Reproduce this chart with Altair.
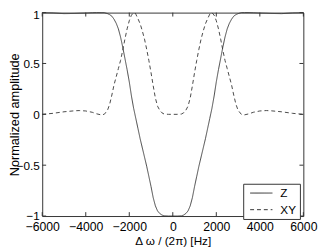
import altair as alt
import pandas as pd

# Frequency offset (Hz)
freq = [-6000, -5500, -5000, -4500, -4300, -4000, -3700, -3500, -3300, -3150,
        -3000, -2900, -2800, -2700, -2600, -2500, -2400, -2300, -2200, -2100,
        -2000, -1900, -1800, -1750, -1700, -1600, -1500, -1400, -1300, -1200,
        -1100, -1000, -900, -800, -700, -600, -500, -400, -200, 0,
        200, 400, 500, 600, 700, 800, 900, 1000, 1100, 1200,
        1300, 1400, 1500, 1600, 1700, 1750, 1800, 1900, 2000, 2100,
        2200, 2300, 2400, 2500, 2600, 2700, 2800, 2900, 3000, 3150,
        3300, 3500, 3700, 4000, 4300, 4500, 5000, 5500, 6000]

z_amp = [1.0, 0.997, 0.99, 0.992, 0.994, 0.996, 0.999, 1.0, 1.0, 1.0,
         0.99, 0.98, 0.965, 0.935, 0.895, 0.84, 0.76, 0.66, 0.55, 0.44,
         0.32, 0.18, 0.06, 0.01, -0.04, -0.14, -0.24, -0.33, -0.42, -0.51,
         -0.61, -0.71, -0.82, -0.9, -0.95, -0.975, -0.99, -0.998, -1.0, -1.0,
         -1.0, -0.998, -0.99, -0.975, -0.95, -0.9, -0.82, -0.71, -0.61, -0.51,
         -0.42, -0.33, -0.24, -0.14, -0.04, 0.01, 0.06, 0.18, 0.32, 0.44,
         0.55, 0.66, 0.76, 0.84, 0.895, 0.935, 0.965, 0.98, 0.99, 1.0,
         1.0, 1.0, 0.999, 0.996, 0.994, 0.992, 0.99, 0.997, 1.0]

xy_amp = [0.0, 0.01, 0.025, 0.035, 0.037, 0.033, 0.02, 0.005, -0.005, 0.0,
          0.04, 0.1, 0.19, 0.29, 0.37, 0.45, 0.53, 0.63, 0.74, 0.84,
          0.92, 0.975, 1.0, 1.0, 0.985, 0.94, 0.89, 0.82, 0.74, 0.64,
          0.53, 0.41, 0.28, 0.16, 0.08, 0.04, 0.015, 0.003, 0.0, 0.0,
          0.0, 0.003, 0.015, 0.04, 0.08, 0.16, 0.28, 0.41, 0.53, 0.64,
          0.74, 0.82, 0.89, 0.94, 0.985, 1.0, 1.0, 0.975, 0.92, 0.84,
          0.74, 0.63, 0.53, 0.45, 0.37, 0.29, 0.19, 0.1, 0.04, 0.0,
          -0.005, 0.005, 0.02, 0.033, 0.037, 0.035, 0.025, 0.01, 0.0]

series_names = ["Z", "XY"]
x_ticks = [-6000, -4000, -2000, 0, 2000, 4000, 6000]
y_ticks = [-1, -0.5, 0, 0.5, 1]

FONT = "Liberation Sans"
INK = "#333333"

rows = []
for f, a in zip(freq, z_amp):
    rows.append({"freq": f, "amp": a, "series": "Z"})
for f, a in zip(freq, xy_amp):
    rows.append({"freq": f, "amp": a, "series": "XY"})
df = pd.DataFrame(rows)

xscale = alt.Scale(domain=[-6000, 6000], nice=False, zero=False)
yscale = alt.Scale(domain=[-1, 1], nice=False, zero=False)

lines = alt.Chart(df).mark_line(color=INK, strokeWidth=0.9).encode(
    x=alt.X("freq:Q", scale=xscale,
            axis=alt.Axis(values=x_ticks, format="d", title="Δ ω / (2π) [Hz]",
                          labelFlush=False, tickSize=0, domain=False, grid=False,
                          labelBaseline="alphabetic", labelPadding=15,
                          labelFontSize=12.5, titleFontSize=12,
                          titleY=29, titleBaseline="alphabetic")),
    y=alt.Y("amp:Q", scale=yscale,
            axis=alt.Axis(values=y_ticks, format="~g", title="Normalized amplitude",
                          tickSize=0, domain=False, grid=False, labelPadding=3,
                          labelFontSize=12, titleFontSize=13,
                          labelOffset={"condition": {"test": "datum.value === 1", "value": 2},
                                       "value": 0},
                          titleX=-24, titleY=104, titleBaseline="alphabetic",
                          labelFlush=False)),
    strokeDash=alt.StrokeDash("series:N",
                              scale=alt.Scale(domain=series_names, range=[[1, 0], [4, 3]]),
                              legend=alt.Legend(title=None, orient="none", legendX=205.5,
                                                legendY=175, symbolType="M-1.9,0H1.9",
                                                symbolSize=144, symbolStrokeColor=INK,
                                                symbolFillColor="transparent",
                                                symbolStrokeWidth=1, strokeColor=INK,
                                                fillColor="white", padding=3,
                                                symbolOffset=9, labelOffset=13,
                                                labelFontSize=12, labelFont=FONT,
                                                labelColor="black", rowPadding=4)),
    order="freq:Q",
)

xt = pd.DataFrame({"t": x_ticks})
yt = pd.DataFrame({"t": y_ticks})

tick_b = alt.Chart(xt).mark_rule(color=INK, strokeWidth=1).encode(
    x=alt.X("t:Q", scale=xscale), y=alt.value(208), y2=alt.value(204))
tick_t = alt.Chart(xt).mark_rule(color=INK, strokeWidth=1).encode(
    x=alt.X("t:Q", scale=xscale), y=alt.value(0), y2=alt.value(4))
tick_l = alt.Chart(yt).mark_rule(color=INK, strokeWidth=1).encode(
    y=alt.Y("t:Q", scale=yscale), x=alt.value(0), x2=alt.value(4))
tick_r = alt.Chart(yt).mark_rule(color=INK, strokeWidth=1).encode(
    y=alt.Y("t:Q", scale=yscale), x=alt.value(267), x2=alt.value(263))

chart = alt.layer(tick_b, tick_t, tick_l, tick_r, lines).properties(
    width=267, height=208,
    autosize=alt.AutoSizeParams(type="none"),
    padding={"left": 35, "top": 2, "right": 16, "bottom": 32},
).configure_view(
    stroke=INK, strokeWidth=1
).configure_axis(
    labelFont=FONT, titleFont=FONT,
    labelColor="black", titleColor="black", titleFontWeight="normal",
)

chart.save("out.html", embed_options={"renderer": "svg", "actions": False})
